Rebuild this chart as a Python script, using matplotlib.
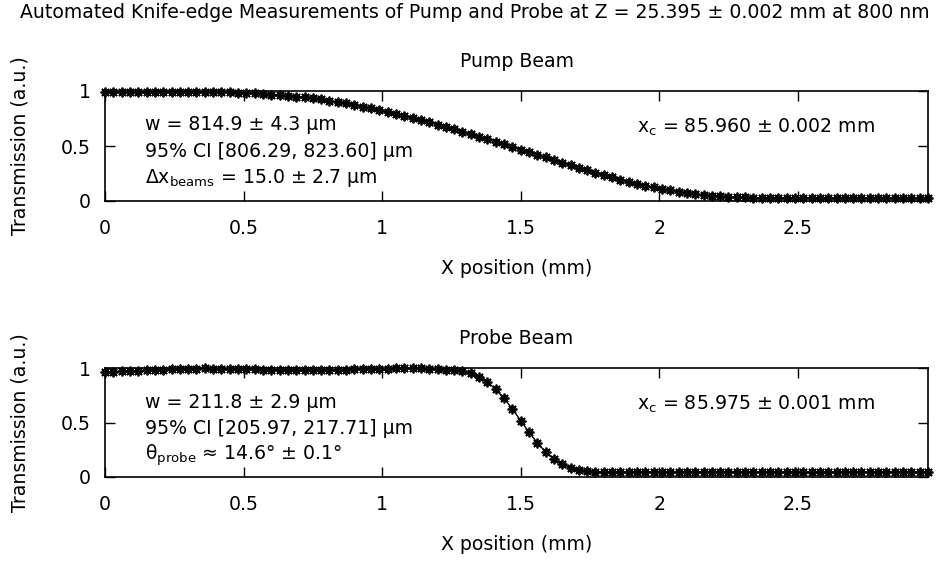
import matplotlib
matplotlib.use('Agg')
import matplotlib.pyplot as plt

plt.rcParams['font.family'] = ['DejaVu Sans']
plt.rcParams['mathtext.default'] = 'regular'

# scan positions (mm), shared by both beams
x_pos = [0.00, 0.03, 0.06, 0.09, 0.12, 0.15, 0.18, 0.21, 0.24, 0.27,
         0.30, 0.33, 0.36, 0.39, 0.42, 0.45, 0.48, 0.51, 0.54, 0.57,
         0.60, 0.63, 0.66, 0.69, 0.72, 0.75, 0.78, 0.81, 0.84, 0.87,
         0.90, 0.93, 0.96, 0.99, 1.02, 1.05, 1.08, 1.11, 1.14, 1.17,
         1.20, 1.23, 1.26, 1.29, 1.32, 1.35, 1.38, 1.41, 1.44, 1.47,
         1.50, 1.53, 1.56, 1.59, 1.62, 1.65, 1.68, 1.71, 1.74, 1.77,
         1.80, 1.83, 1.86, 1.89, 1.92, 1.95, 1.98, 2.01, 2.04, 2.07,
         2.10, 2.13, 2.16, 2.19, 2.22, 2.25, 2.28, 2.31, 2.34, 2.37,
         2.40, 2.43, 2.46, 2.49, 2.52, 2.55, 2.58, 2.61, 2.64, 2.67,
         2.70, 2.73, 2.76, 2.79, 2.82, 2.85, 2.88, 2.91, 2.94, 2.97]

pump_T = [0.995, 0.995, 0.995, 0.995, 0.995, 0.995, 0.994, 0.994, 0.994, 0.994,
          0.993, 0.993, 0.992, 0.991, 0.990, 0.988, 0.985, 0.982, 0.978, 0.973,
          0.968, 0.963, 0.957, 0.950, 0.942, 0.933, 0.923, 0.912, 0.900, 0.888,
          0.874, 0.859, 0.844, 0.828, 0.811, 0.794, 0.776, 0.757, 0.737, 0.716,
          0.695, 0.674, 0.652, 0.630, 0.607, 0.584, 0.561, 0.538, 0.515, 0.491,
          0.467, 0.443, 0.420, 0.396, 0.373, 0.350, 0.327, 0.304, 0.281, 0.259,
          0.237, 0.216, 0.195, 0.175, 0.156, 0.139, 0.124, 0.110, 0.097, 0.085,
          0.074, 0.064, 0.056, 0.049, 0.043, 0.039, 0.035, 0.032, 0.030, 0.029,
          0.028, 0.027, 0.026, 0.026, 0.025, 0.025, 0.025, 0.025, 0.025, 0.025,
          0.025, 0.025, 0.025, 0.025, 0.025, 0.025, 0.025, 0.025, 0.025, 0.025]

probe_T = [0.962, 0.966, 0.969, 0.972, 0.976, 0.979, 0.983, 0.986, 0.989, 0.991,
           0.993, 0.995, 0.996, 0.995, 0.994, 0.993, 0.991, 0.989, 0.988, 0.986,
           0.985, 0.984, 0.983, 0.982, 0.981, 0.981, 0.981, 0.982, 0.983, 0.985,
           0.987, 0.989, 0.991, 0.993, 0.995, 0.996, 0.997, 0.997, 0.996, 0.994,
           0.988, 0.985, 0.979, 0.968, 0.950, 0.918, 0.871, 0.805, 0.722, 0.624,
           0.518, 0.411, 0.313, 0.230, 0.164, 0.117, 0.085, 0.066, 0.056, 0.050,
           0.047, 0.046, 0.045, 0.045, 0.044, 0.045, 0.046, 0.045, 0.044, 0.045,
           0.045, 0.046, 0.045, 0.044, 0.045, 0.045, 0.046, 0.045, 0.044, 0.045,
           0.045, 0.046, 0.045, 0.044, 0.045, 0.045, 0.046, 0.045, 0.044, 0.045,
           0.045, 0.046, 0.045, 0.044, 0.045, 0.045, 0.046, 0.045, 0.044, 0.045]

x_ticks = [0, 0.5, 1, 1.5, 2, 2.5]
x_ticklabels = ['0', '0.5', '1', '1.5', '2', '2.5']
y_ticks = [0, 0.5, 1]
y_ticklabels = ['0', '0.5', '1']

title = 'Automated Knife-edge Measurements of Pump and Probe at Z = 25.395 ± 0.002 mm at 800 nm'
panels = [
    dict(name='Pump Beam', y=pump_T,
         notes=['w = 814.9 ± 4.3 µm', '95% CI [806.29, 823.60] µm',
                'Δx$_{beams}$ = 15.0 ± 2.7 µm'],
         center='x$_{c}$ = 85.960 ± 0.002 mm'),
    dict(name='Probe Beam', y=probe_T,
         notes=['w = 211.8 ± 2.9 µm', '95% CI [205.97, 217.71] µm',
                'θ$_{probe}$ ≈ 14.6° ± 0.1°'],
         center='x$_{c}$ = 85.975 ± 0.001 mm'),
]

W, H = 938, 563
FS = 13.6


def fx(px):
    return px / W


def fy(py):
    return 1 - py / H


fig = plt.figure(figsize=(W / 100, H / 100), dpi=100, facecolor='white')
fig.text(fx(475), fy(12), title, ha='center', va='center', fontsize=FS)

# pixel layout of each panel: axes top, axes bottom
frames = [(91, 201), (368, 477)]
left, right = 105, 928

for p, (top, bot) in zip(panels, frames):
    ax = fig.add_axes([fx(left), fy(bot), fx(right - left), (bot - top) / H])
    ax.plot(x_pos, p['y'], color='black', linewidth=1.0,
            marker=(8, 2, 0), markersize=7, markeredgewidth=1.3,
            clip_on=False, zorder=3)
    ax.set_xlim(0, 2.97)
    ax.set_ylim(0, 1)
    ax.set_xticks(x_ticks)
    ax.set_xticklabels(x_ticklabels)
    ax.set_yticks(y_ticks)
    ax.set_yticklabels(y_ticklabels)
    ax.tick_params(axis='both', direction='in', length=7, width=1, top=True, right=True,
                   labelsize=FS)
    ax.tick_params(axis='x', pad=13)
    ax.tick_params(axis='y', pad=10)
    for s in ax.spines.values():
        s.set_linewidth(1.2)

    mid = (left + right) / 2
    fig.text(fx(mid), fy(top - 30), p['name'], ha='center', va='center', fontsize=FS)
    fig.text(fx(mid), fy(bot + 67), 'X position (mm)', ha='center', va='center', fontsize=FS)
    fig.text(fx(20), fy((top + bot) / 2), 'Transmission (a.u.)', rotation=90,
             ha='center', va='center', fontsize=FS)

    for i, line in enumerate(p['notes']):
        fig.text(fx(145), fy(top + 34 + 26.5 * i), line, ha='left', va='center', fontsize=FS)
    fig.text(fx(637), fy(top + 36), p['center'], ha='left', va='center', fontsize=FS)

plt.savefig('out.png', dpi=100, facecolor='white')
